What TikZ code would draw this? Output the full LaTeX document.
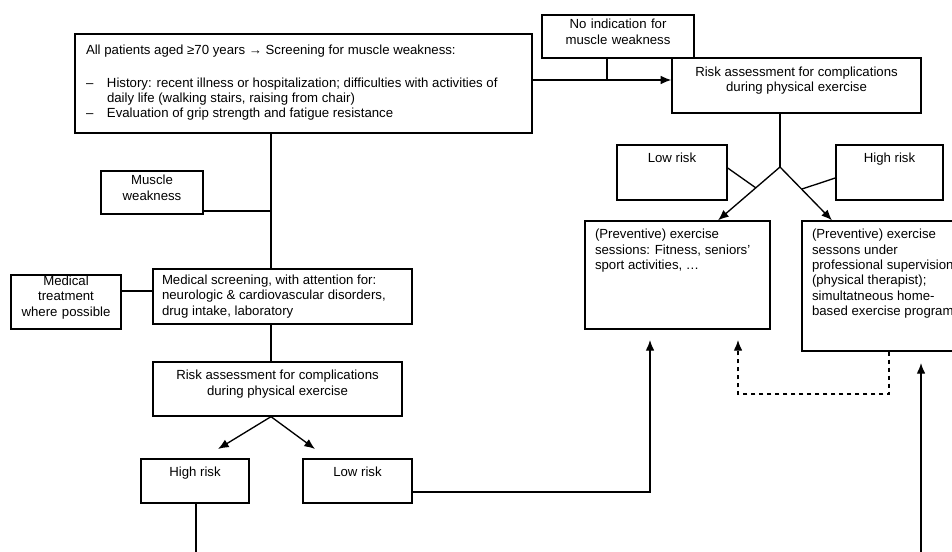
\documentclass[tikz,border=0pt]{standalone}
\usepackage{fontspec}
\setmainfont{Liberation Sans}
\usetikzlibrary{arrows.meta,positioning,fit}

\begin{document}
\begin{tikzpicture}[x=0.75pt, y=-0.75pt, line width=1pt,
        font=\fontsize{9.9}{11.6}\selectfont,
        >={Latex[length=8pt,width=6.5pt]},
        box/.style={draw, inner sep=0pt},
        txt/.style={inner sep=0pt, align=center},
        ltxt/.style={inner sep=0pt, align=left}]
        \useasboundingbox (0,0) rectangle (952,552);
        \clip (0,0) rectangle (952,552);

        % screening and left branch
        \node[box, fit={(75,34) (532,133)}] (screen) {};
        \node[ltxt, below right=8pt and 8.25pt of screen.north west] (screentext)
            {All patients aged ≥70 years → Screening for muscle weakness:\\[13pt]
             \makebox[15.75pt][l]{–}History: recent illness or hospitalization; difficulties with activities of\\
             \hspace*{15.75pt}daily life (walking stairs, raising from chair)\\
             \makebox[15.75pt][l]{–}Evaluation of grip strength and fatigue resistance};
        \node[box, fit={(101,171) (203,214)}, align=center] (weak) {Muscle\\weakness};
        \node[box, fit={(11,275) (121,329)}, align=center] (treat) {Medical\\treatment\\where possible};
        \node[box, fit={(153,269) (412,324)}] (medscr) {};
        \node[ltxt, right=6.75pt of medscr.west] (medscrtext)
            {Medical screening, with attention for:\\neurologic \& cardiovascular disorders,\\drug intake, laboratory};
        \node[box, fit={(153,362) (402,416)}] (riskL) {};
        \node[txt, below=6pt of riskL.north] (riskLtext) {Risk assessment for complications\\during physical exercise};
        \node[box, fit={(141,459) (249,503)}] (highL) {};
        \node[txt, below=6pt of highL.north] (highLtext) {High risk};
        \node[box, fit={(303,459) (412,503)}] (lowL) {};
        \node[txt, below=6pt of lowL.north] (lowLtext) {Low risk};

        % right branch
        \node[box, fit={(542,15) (694,58)}, align=center] (noind) {No indication for\\muscle weakness};
        \node[box, fit={(672,58) (921,113)}] (riskR) {};
        \node[txt, below=6.5pt of riskR.north] (riskRtext) {Risk assessment for complications\\during physical exercise};
        \node[box, fit={(617,145) (727,200)}] (lowR) {};
        \node[txt, below=6pt of lowR.north] (lowRtext) {Low risk};
        \node[box, fit={(836,145) (943,200)}] (highR) {};
        \node[txt, below=6pt of highR.north] (highRtext) {High risk};
        \node[box, fit={(585,221) (770,329)}] (prevA) {};
        \node[ltxt, below right=6pt and 7.5pt of prevA.north west] (prevAtext)
            {(Preventive) exercise\\sessions: Fitness, seniors'\\sport activities, …};
        \node[box, fit={(802,221) (1000,351)}] (prevB) {};
        \node[ltxt, below right=6pt and 7.5pt of prevB.north west] (prevBtext)
            {(Preventive) exercise\\sessons under\\professional supervision\\(physical therapist);\\simultatneous home-\\based exercise program};

        % junctions
        \coordinate (trunk) at (271,211);
        \coordinate (side) at (0,291);
        \coordinate (split) at (607,80);
        \coordinate (apexR) at (780,167);
        \coordinate (lowend) at (756,188);
        \coordinate (highend) at (802,189);
        \coordinate (tolowA) at (218,449);
        \coordinate (tolowB) at (315,449);
        \coordinate (outH) at (196,560);
        \coordinate (bendL) at (650,492);
        \coordinate (tipL) at (650,340);
        \coordinate (bendD) at (889,394);
        \coordinate (tipD) at (738,340);
        \coordinate (outR) at (921,560);
        \coordinate (tipR) at (921,363);

        \draw (screen.south -| trunk) -- (medscr.north -| trunk);
        \draw (weak.east |- trunk) -- (trunk);
        \draw (treat.east |- side) -- (medscr.west |- side);
        \draw (medscr.south -| trunk) -- (riskL.north -| trunk);
        \draw[->] (riskL.south -| trunk) -- (tolowA);
        \draw[->] (riskL.south -| trunk) -- (tolowB);
        \draw (highL.south -| outH) -- (outH);
        \draw[->] (lowL.east |- bendL) -- (bendL) -- (tipL);

        \draw[->] (screen.east |- split) -- (riskR.west |- split);
        \draw (noind.south -| split) -- (split);
        \draw (riskR.south -| apexR) -- (apexR);
        \draw[->] (apexR) -- (prevA.north -| 718,0);
        \draw[->] (apexR) -- (prevB.north -| 832,0);
        \draw (lowR.east |- 0,168) -- (lowend);
        \draw (highR.west |- 0,178) -- (highend);
        \draw[->, dashed] (prevB.south -| bendD) -- (bendD) -- (bendD -| tipD) -- (tipD);
        \draw[->] (outR) -- (tipR);
\end{tikzpicture}
\end{document}
